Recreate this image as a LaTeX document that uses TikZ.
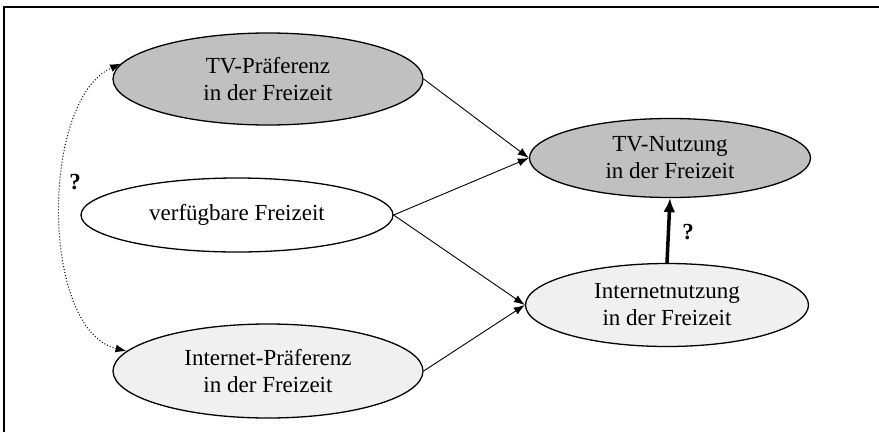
\documentclass[tikz,border=0pt]{standalone}
\usepackage{fontspec}
\setmainfont{Liberation Serif}
\usetikzlibrary{shapes.geometric,arrows.meta}
\definecolor{darkfill}{HTML}{C0C0C0}
\definecolor{lightfill}{HTML}{F0F0F0}
\tikzset{
  ell/.style={ellipse,draw=black,line width=1.3pt,inner sep=0pt,align=center,
    font=\fontsize{23}{27}\selectfont},
  link/.style={line width=0.9pt,-{Latex[length=11pt,width=8pt]}},
  strong/.style={line width=3.5pt,-{Latex[length=14pt,width=12pt]}},
  corr/.style={line width=1pt,dotted,{Latex[length=11pt,width=8pt]}-{Latex[length=11pt,width=8pt]}},
  qlabel/.style={font=\fontsize{23}{27}\selectfont\bfseries}
}
\begin{document}
\begin{tikzpicture}[x=1pt,y=-1pt]
\useasboundingbox (0,0) rectangle (879,432);
\draw[line width=2pt] (4,432) -- (4,7) -- (879,7);
\node[ell,fill=darkfill,minimum width=310pt,minimum height=92pt] (tp) at (268,79) {TV-Präferenz\\in der Freizeit};
\node[ell,fill=white,minimum width=312pt,minimum height=74pt] (vf) at (237,215) {verfügbare Freizeit};
\node[ell,fill=lightfill,minimum width=310pt,minimum height=94pt] (ip) at (268,371) {Internet-Präferenz\\in der Freizeit};
\node[ell,fill=darkfill,minimum width=281pt,minimum height=79pt] (tn) at (670,158) {TV-Nutzung\\in der Freizeit};
\node[ell,fill=lightfill,minimum width=283pt,minimum height=83pt] (in) at (667,305) {Internetnutzung\\in der Freizeit};
\draw[link] (tp.east) -- (tn.west);
\draw[link] (vf.east) -- (tn.west);
\draw[link] (vf.east) -- (in.west);
\draw[link] (ip.east) -- (in.west);
\draw[strong] (in.north) -- (tn.south);
\node[qlabel] (q2) at (688,232) {?};
\draw[corr] (ip.172) .. controls (40,330) and (40,100) .. (tp.174);
\node[qlabel] (q1) at (75,182) {?};
\end{tikzpicture}
\end{document}
